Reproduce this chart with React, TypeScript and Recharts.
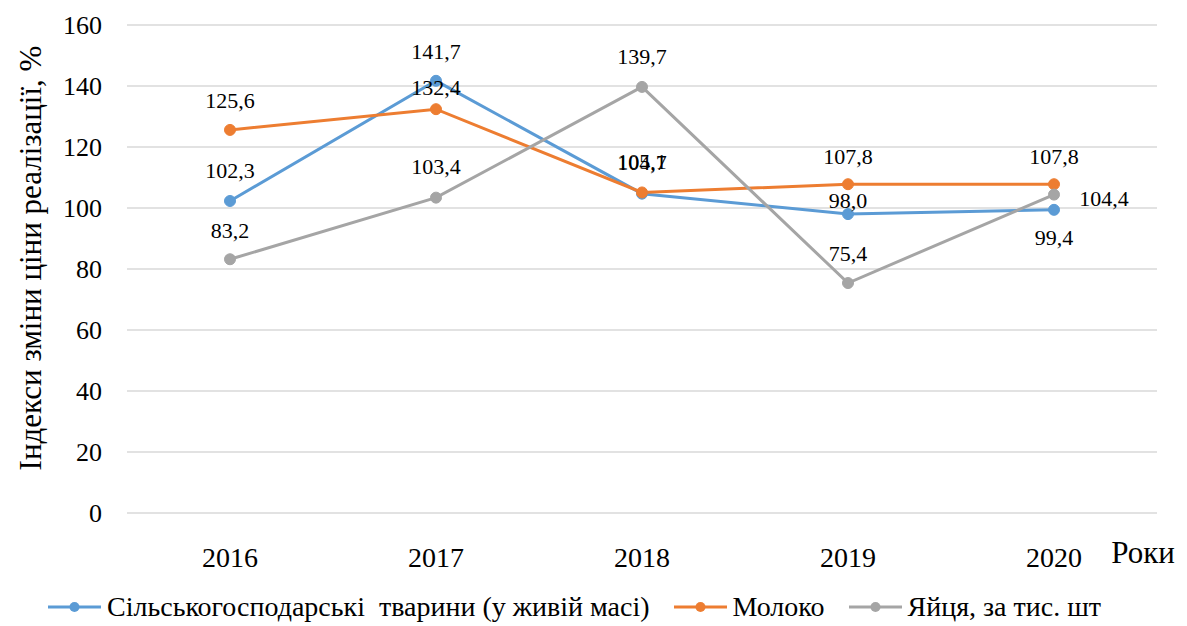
import { LineChart, Line, XAxis, YAxis, CartesianGrid } from 'recharts';

const years = ['2016', '2017', '2018', '2019', '2020'];
const livestock = [102.3, 141.7, 104.7, 98.0, 99.4];
const milk = [125.6, 132.4, 105.1, 107.8, 107.8];
const eggs = [83.2, 103.4, 139.7, 75.4, 104.4];
const yTicks = [0, 20, 40, 60, 80, 100, 120, 140, 160];

const seriesNames = [
  'Сільськогосподарські  тварини (у живій масі)',
  'Молоко',
  'Яйця, за тис. шт',
];

const COLORS = ['#5B9BD5', '#ED7D31', '#A5A5A5'];
const FONT = '"Liberation Serif"';

// label placement per series/point: [dx, dy] of label centre relative to the dot
const labelOffsets: [number, number][][] = [
  [[0, -30], [0, -29], [0, -31], [0, -14], [0, 28]],
  [[0, -29], [0, -22], [0, -31], [0, -28], [0, -28]],
  [[0, -29], [0, -31], [0, -30], [0, -30], [50, 4]],
];

const data = years.map((year, i) => ({
  year,
  livestock: livestock[i],
  milk: milk[i],
  eggs: eggs[i],
}));

const fmt = (v: number) => v.toFixed(1).replace('.', ',');

function makeLabel(series: number) {
  return (props: any) => {
    const { x, y, value, index } = props;
    const [dx, dy] = labelOffsets[series][index];
    return (
      <text
        x={x + dx}
        y={y + dy}
        textAnchor="middle"
        dominantBaseline="central"
        style={{ fontFamily: FONT }}
        fontSize={22}
        fill="#000"
      >
        {fmt(value)}
      </text>
    );
  };
}

function YTitle() {
  return (
    <text
      x={30}
      y={258}
      transform="rotate(-90 30 258)"
      textAnchor="middle"
      dominantBaseline="central"
      style={{ fontFamily: FONT }}
      fontSize={31}
      fill="#000"
    >
      Індекси зміни ціни реалізації, %
    </text>
  );
}

function LegendItem({ color, name }: { color: string; name: string }) {
  return (
    <span style={{ display: 'inline-flex', alignItems: 'center', marginRight: 24 }}>
      <svg width={53} height={14}>
        <line x1={0} y1={7} x2={53} y2={7} stroke={color} strokeWidth={3} />
        <circle cx={26.5} cy={7} r={5} fill={color} />
      </svg>
      <span style={{ marginLeft: 6 }}>{name}</span>
    </span>
  );
}

export default function App() {
  const keys = ['livestock', 'milk', 'eggs'];
  return (
    <div style={{ position: 'absolute', left: 0, top: 0, width: 1187, height: 626, background: '#fff', fontFamily: FONT }}>
      <LineChart
        width={1187}
        height={626}
        data={data}
        margin={{ top: 25, right: 30, left: 0, bottom: 0 }}
      >
        <CartesianGrid vertical={false} stroke="#D9D9D9" strokeWidth={1.5} />
        <XAxis
          dataKey="year"
          height={113}
          padding={{ left: 103, right: 103 }}
          axisLine={false}
          tickLine={false}
          tickSize={0}
          tickMargin={34}
          tick={{ style: { fontFamily: FONT }, fontSize: 28, fill: '#000' }}
        />
        <YAxis
          width={127}
          domain={[0, 160]}
          ticks={yTicks}
          axisLine={false}
          tickLine={false}
          tickSize={0}
          tickMargin={25}
          tick={{ style: { fontFamily: FONT }, fontSize: 26, fill: '#000' }}
        />
        {keys.map((k, s) => (
          <Line
            key={k}
            dataKey={k}
            name={seriesNames[s]}
            stroke={COLORS[s]}
            strokeWidth={3}
            dot={{ r: 5.5, fill: COLORS[s], stroke: COLORS[s], strokeWidth: 1 }}
            activeDot={false}
            isAnimationActive={false}
            label={makeLabel(s)}
          />
        ))}
        <YTitle />
        <text x={1143} y={552} textAnchor="middle" dominantBaseline="central" style={{ fontFamily: FONT }} fontSize={31} fill="#000">
          Роки
        </text>
      </LineChart>
      <div
        style={{
          position: 'absolute',
          left: 48,
          top: 591,
          fontFamily: FONT,
          fontSize: 28,
          color: '#000',
          whiteSpace: 'pre',
          display: 'flex',
          alignItems: 'center',
        }}
      >
        {seriesNames.map((n, i) => (
          <LegendItem key={n} color={COLORS[i]} name={n} />
        ))}
      </div>
    </div>
  );
}
